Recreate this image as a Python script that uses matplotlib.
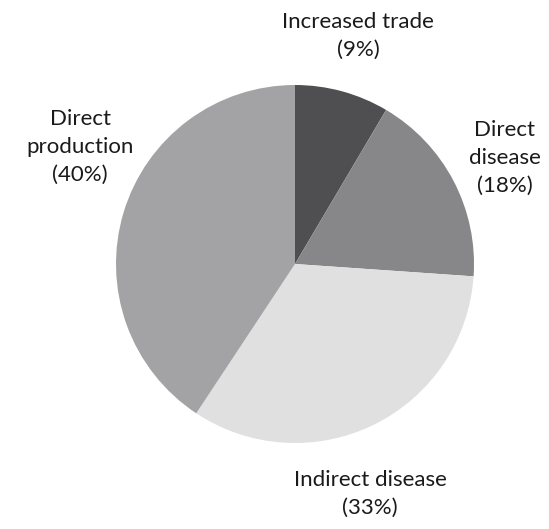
import matplotlib.pyplot as plt

labels = ["Increased trade", "Direct disease", "Indirect disease", "Direct production"]
label_pcts = [9, 18, 33, 40]
# wedge sizes (labels are rounded)
sizes = [8.5, 17.6, 33.2, 40.7]
colors = ["#4f4f51", "#87878a", "#e0e0e0", "#a3a3a5"]

W, H = 549, 529
fig = plt.figure(figsize=(W / 100, H / 100), dpi=100)
ax = fig.add_axes([0, 0, 1, 1])

ax.pie(sizes, colors=colors, startangle=90, counterclock=False,
       center=(295, H - 264), radius=179, frame=True,
       wedgeprops=dict(linewidth=0))
ax.set_xlim(0, W)
ax.set_ylim(0, H)
ax.set_aspect("equal")
ax.axis("off")

# label blocks: text position (x center, y center in pixels from top)
label_pos = [(358, 36), (505, 158), (370, 494), (80, 147)]
label_text = [f"{n}\n({p}%)" for n, p in zip(
    ["Increased trade", "Direct\ndisease", "Indirect disease", "Direct\nproduction"],
    label_pcts)]
for txt, (x, y) in zip(label_text, label_pos):
    ax.text(x, H - y, txt, ha="center", va="center", fontsize=16,
            family="Lato", linespacing=1.5, color="#1a1a1a")

fig.savefig("out.png", dpi=100)
